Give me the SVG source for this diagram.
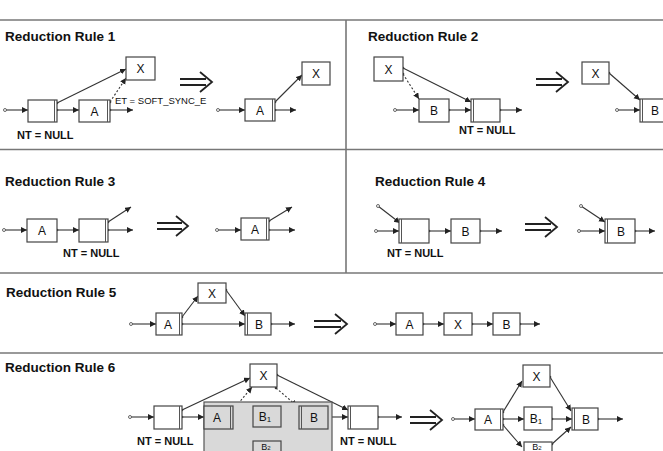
<svg xmlns="http://www.w3.org/2000/svg" width="663" height="451" viewBox="0 0 663 451">
<style>
.sep{stroke:#777;stroke-width:1.6;fill:none}
.title{font-family:"Liberation Sans",Arial,sans-serif;font-weight:bold;font-size:13.5px;fill:#111}
.nt{font-family:"Liberation Sans",Arial,sans-serif;font-weight:bold;font-size:11px;fill:#111}
.et{font-family:"Liberation Sans",Arial,sans-serif;font-size:9.5px;fill:#111}
.lbl{font-family:"Liberation Sans",Arial,sans-serif;font-size:12px;fill:#111;text-anchor:middle}
.sm{font-family:"Liberation Sans",Arial,sans-serif;font-size:9px;fill:#111;text-anchor:middle}
.box{fill:#fff;stroke:#444;stroke-width:1.2}
.dbl{stroke:#555;stroke-width:1}
.c{stroke:#333;stroke-width:1.1;fill:none;marker-end:url(#ah);marker-start:url(#dot)}
.d{stroke:#333;stroke-width:1.1;fill:none;stroke-dasharray:2 2;marker-end:url(#ah);marker-start:url(#dot)}
.in{stroke:#333;stroke-width:1.1;fill:none;marker-end:url(#ah);marker-start:url(#odot)}
.imp{stroke:#222;stroke-width:1.8;fill:none}
</style>
<defs>
<marker id="ah" markerUnits="userSpaceOnUse" markerWidth="7" markerHeight="7" refX="6" refY="3" orient="auto"><path d="M0,0 L6,3 L0,6 z" fill="#222"/></marker>
<marker id="dot" markerUnits="userSpaceOnUse" markerWidth="4" markerHeight="4" refX="2" refY="2"><circle cx="2" cy="2" r="1.3" fill="#333"/></marker>
<marker id="odot" markerUnits="userSpaceOnUse" markerWidth="5" markerHeight="5" refX="2.5" refY="2.5"><circle cx="2.5" cy="2.5" r="1.5" fill="#fff" stroke="#444" stroke-width="0.8"/></marker>
</defs>
<rect width="663" height="451" fill="#fff"/>
<g id="frame">
<line class="sep" x1="0" y1="20" x2="663" y2="20"/>
<line class="sep" x1="0" y1="149.5" x2="663" y2="149.5"/>
<line class="sep" x1="0" y1="273" x2="663" y2="273"/>
<line class="sep" x1="0" y1="353" x2="663" y2="353"/>
<line class="sep" x1="346" y1="20" x2="346" y2="273"/>
</g>
<g id="titles">
<text class="title" x="5" y="41">Reduction Rule 1</text>
<text class="title" x="368" y="41">Reduction Rule 2</text>
<text class="title" x="5" y="186">Reduction Rule 3</text>
<text class="title" x="375" y="186">Reduction Rule 4</text>
<text class="title" x="6" y="297">Reduction Rule 5</text>
<text class="title" x="5" y="372">Reduction Rule 6</text>
</g>
<g id="connectors">
<path class="in" d="M5,110 H28"/>
<path class="c" d="M57,103 L126,69"/>
<path class="c" d="M57,110 H79"/>
<path class="d" d="M110,102 L126,78"/>
<path class="c" d="M110,110 H133"/>
<path class="in" d="M218,110 H245"/>
<path class="c" d="M275,102 L302,75"/>
<path class="c" d="M275,110 H296"/>
<path class="in" d="M395,110 H419"/>
<path class="c" d="M449,110 H471"/>
<path class="c" d="M403,68 L471,102"/>
<path class="d" d="M403,74 L419,99"/>
<path class="c" d="M500,110 H522"/>
<path class="in" d="M617,110 H640"/>
<path class="c" d="M609,73 L640,100"/>
<path class="in" d="M4,230 H27"/>
<path class="c" d="M57,230 H79"/>
<path class="c" d="M108,222 L131,207"/>
<path class="c" d="M108,230 H133"/>
<path class="in" d="M217,230 H241"/>
<path class="c" d="M269,221 L292,207"/>
<path class="c" d="M269,230 H295"/>
<path class="in" d="M378,206 L400,223"/>
<path class="in" d="M376,231 H399"/>
<path class="c" d="M429,231 H451"/>
<path class="c" d="M480,231 H502"/>
<path class="in" d="M581,206 L605,222"/>
<path class="in" d="M579,231 H605"/>
<path class="c" d="M635,231 H655"/>
<path class="in" d="M131,324 H156"/>
<path class="c" d="M182,317 L198,296"/>
<path class="c" d="M226,290 L245,316"/>
<path class="c" d="M182,324 H245"/>
<path class="c" d="M271,324 H295"/>
<path class="in" d="M375,324 H396"/>
<path class="c" d="M423,324 H444"/>
<path class="c" d="M472,324 H493"/>
<path class="c" d="M520,324 H540"/>
<path class="in" d="M130,417 H154"/>
<path class="c" d="M182,410 L250,378"/>
<path class="c" d="M182,417 H204"/>
<path class="d" d="M233,410 L252,387"/>
<path class="c" d="M233,417 H253"/>
<path class="c" d="M233,423 L252,445"/>
<path class="c" d="M281,417 H299"/>
<path class="c" d="M283,444 L298,425"/>
<path class="d" d="M276,388 L297,406"/>
<path class="c" d="M277,375 L348,410"/>
<path class="c" d="M328,417 H348"/>
<path class="c" d="M378,417 H402"/>
<path class="in" d="M453,419 H475"/>
<path class="c" d="M503,412 L522,381"/>
<path class="c" d="M503,419 H524"/>
<path class="c" d="M503,425 L522,447"/>
<path class="c" d="M550,377 L571,411"/>
<path class="c" d="M552,419 H572"/>
<path class="c" d="M552,444 L571,427"/>
<path class="c" d="M598,419 H623"/>
</g>
<g id="implies">
<path class="imp" d="M180,79 H206 M180,85 H206 M200,72 L212,82 L200,92"/>
<path class="imp" d="M536,79 H562 M536,85 H562 M556,72 L568,82 L556,92"/>
<path class="imp" d="M157,223 H182 M157,229 H182 M176,216 L188,226 L176,236"/>
<path class="imp" d="M525,224 H551 M525,230 H551 M545,217 L557,227 L545,237"/>
<path class="imp" d="M314,321 H341 M314,327 H341 M335,314 L347,324 L335,334"/>
<path class="imp" d="M410,417 H436 M410,423 H436 M430,410 L442,420 L430,430"/>
</g>
<g id="rule6-region"><rect x="204" y="402" width="128" height="60" fill="#d9d9d9" stroke="#555" stroke-width="1.2"/></g>
<g id="r1-null"><rect class="box" x="28" y="100" width="29" height="22"/><line class="dbl" x1="54.5" y1="100" x2="54.5" y2="122"/></g>
<g id="r1-a"><rect class="box" x="79" y="100" width="31" height="22"/><line class="dbl" x1="107.5" y1="100" x2="107.5" y2="122"/><text class="lbl" x="94.5" y="115.5">A</text></g>
<g id="r1-x"><rect class="box" x="126" y="57" width="29" height="23"/><text class="lbl" x="140.5" y="73">X</text></g>
<g id="r1-a2"><rect class="box" x="245" y="99" width="30" height="22"/><line class="dbl" x1="272.5" y1="99" x2="272.5" y2="121"/><text class="lbl" x="260" y="114.5">A</text></g>
<g id="r1-x2"><rect class="box" x="302" y="62" width="28" height="23"/><text class="lbl" x="316" y="78">X</text></g>
<g id="r1-labels"><text class="et" x="115" y="104">ET = SOFT_SYNC_E</text><text class="nt" x="17" y="139">NT = NULL</text></g>
<g id="r2-x"><rect class="box" x="374" y="57" width="29" height="24"/><text class="lbl" x="388.5" y="73.5">X</text></g>
<g id="r2-b"><rect class="box" x="419" y="99" width="30" height="23"/><text class="lbl" x="434" y="115">B</text></g>
<g id="r2-null"><rect class="box" x="471" y="99" width="29" height="23"/><line class="dbl" x1="473.5" y1="99" x2="473.5" y2="122"/></g>
<g id="r2-x2"><rect class="box" x="582" y="62" width="27" height="22"/><text class="lbl" x="595.5" y="77.5">X</text></g>
<g id="r2-b2"><rect class="box" x="640" y="99" width="30" height="23"/><line class="dbl" x1="642.5" y1="99" x2="642.5" y2="122"/><text class="lbl" x="655" y="115">B</text></g>
<g id="r2-labels"><text class="nt" x="459" y="134">NT = NULL</text></g>
<g id="r3-a"><rect class="box" x="27" y="219" width="30" height="23"/><text class="lbl" x="42" y="235">A</text></g>
<g id="r3-null"><rect class="box" x="79" y="219" width="29" height="23"/><line class="dbl" x1="105.5" y1="219" x2="105.5" y2="242"/></g>
<g id="r3-a2"><rect class="box" x="241" y="218" width="28" height="22"/><line class="dbl" x1="266.5" y1="218" x2="266.5" y2="240"/><text class="lbl" x="255" y="233.5">A</text></g>
<g id="r3-labels"><text class="nt" x="63" y="257">NT = NULL</text></g>
<g id="r4-null"><rect class="box" x="399" y="219" width="30" height="24"/><line class="dbl" x1="401.5" y1="219" x2="401.5" y2="243"/></g>
<g id="r4-b"><rect class="box" x="451" y="219" width="29" height="24"/><text class="lbl" x="465.5" y="235.5">B</text></g>
<g id="r4-b2"><rect class="box" x="605" y="219" width="30" height="24"/><line class="dbl" x1="607.5" y1="219" x2="607.5" y2="243"/><text class="lbl" x="621" y="235.5">B</text></g>
<g id="r4-labels"><text class="nt" x="387" y="257">NT = NULL</text></g>
<g id="r5-a"><rect class="box" x="156" y="313" width="26" height="22"/><line class="dbl" x1="179.5" y1="313" x2="179.5" y2="335"/><text class="lbl" x="168" y="328.5">A</text></g>
<g id="r5-x"><rect class="box" x="198" y="283" width="28" height="20"/><text class="lbl" x="212" y="297.5">X</text></g>
<g id="r5-b"><rect class="box" x="245" y="313" width="26" height="22"/><line class="dbl" x1="247.5" y1="313" x2="247.5" y2="335"/><text class="lbl" x="259" y="328.5">B</text></g>
<g id="r5-a2"><rect class="box" x="396" y="313" width="27" height="22"/><text class="lbl" x="409.5" y="328.5">A</text></g>
<g id="r5-x2"><rect class="box" x="444" y="313" width="28" height="22"/><text class="lbl" x="458" y="328.5">X</text></g>
<g id="r5-b2"><rect class="box" x="493" y="313" width="27" height="22"/><text class="lbl" x="506.5" y="328.5">B</text></g>
<g id="r6-null1"><rect class="box" x="154" y="406" width="28" height="23"/><line class="dbl" x1="179.5" y1="406" x2="179.5" y2="429"/></g>
<g id="r6-x"><rect class="box" x="250" y="364" width="27" height="23"/><text class="lbl" x="263.5" y="380">X</text></g>
<g id="r6-a"><rect class="box" x="204" y="406" width="29" height="23" style="fill:#d9d9d9"/><line class="dbl" x1="230.5" y1="406" x2="230.5" y2="429"/><text class="lbl" x="217" y="422">A</text></g>
<g id="r6-b1"><rect class="box" x="253" y="406" width="28" height="21" style="fill:#d9d9d9"/><text class="lbl" x="265" y="421">B<tspan font-size="8" dy="1">1</tspan></text></g>
<g id="r6-b2"><rect class="box" x="253" y="441" width="28" height="20" style="fill:#d9d9d9"/><text class="sm" x="266" y="449.5">B<tspan font-size="6">2</tspan></text></g>
<g id="r6-b"><rect class="box" x="299" y="406" width="29" height="23" style="fill:#d9d9d9"/><line class="dbl" x1="301.5" y1="406" x2="301.5" y2="429"/><text class="lbl" x="314" y="422">B</text></g>
<g id="r6-null2"><rect class="box" x="348" y="406" width="30" height="23"/><line class="dbl" x1="350.5" y1="406" x2="350.5" y2="429"/></g>
<g id="r6-labels"><text class="nt" x="137" y="445">NT = NULL</text><text class="nt" x="340" y="445">NT = NULL</text></g>
<g id="r6-a2"><rect class="box" x="475" y="409" width="28" height="21"/><line class="dbl" x1="500.5" y1="409" x2="500.5" y2="430"/><text class="lbl" x="488" y="424">A</text></g>
<g id="r6-x2"><rect class="box" x="523" y="365" width="27" height="22"/><text class="lbl" x="536.5" y="380.5">X</text></g>
<g id="r6-b1r"><rect class="box" x="524" y="407" width="28" height="23"/><text class="lbl" x="536" y="423">B<tspan font-size="8" dy="1">1</tspan></text></g>
<g id="r6-b2r"><rect class="box" x="524" y="442" width="28" height="20"/><text class="sm" x="537" y="450">B<tspan font-size="6">2</tspan></text></g>
<g id="r6-br"><rect class="box" x="572" y="408" width="26" height="22"/><line class="dbl" x1="574.5" y1="408" x2="574.5" y2="430"/><text class="lbl" x="586" y="423.5">B</text></g>
</svg>
